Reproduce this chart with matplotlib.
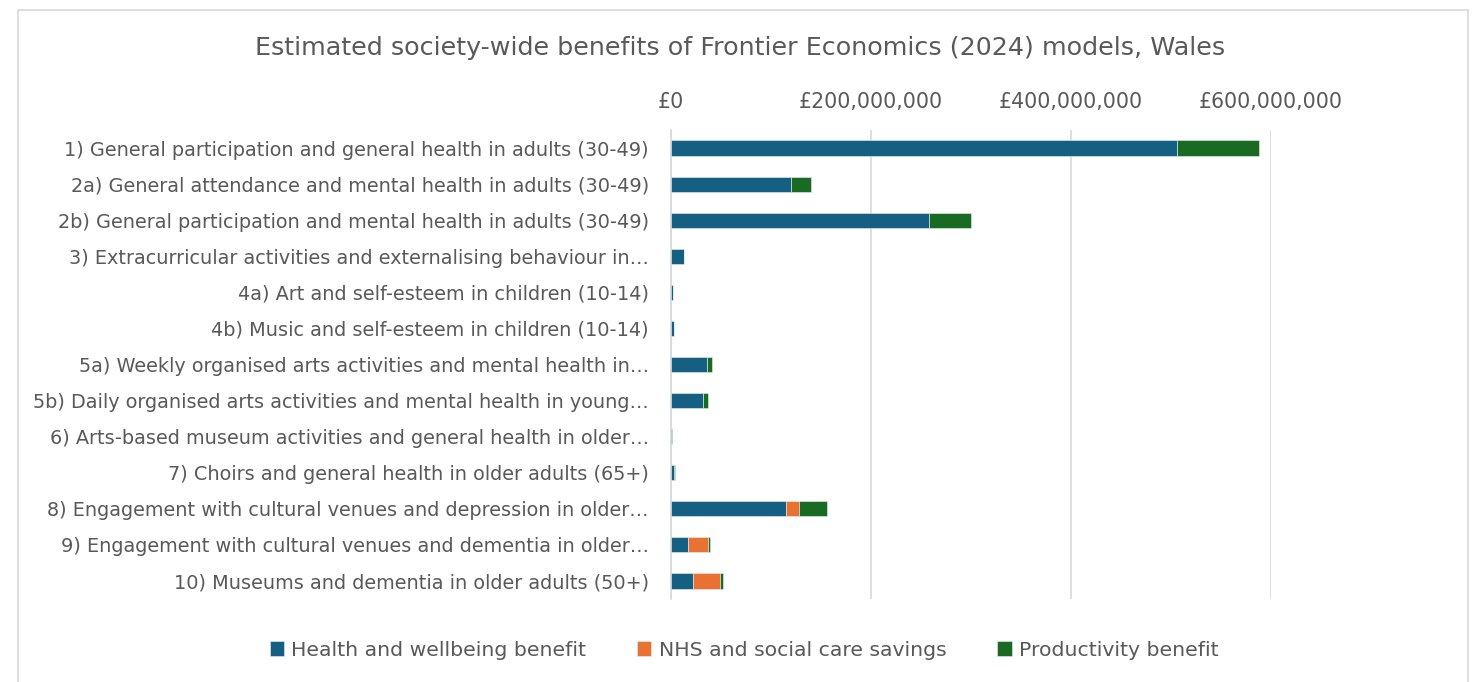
import matplotlib.pyplot as plt
import numpy as np
from matplotlib.patches import Rectangle
from matplotlib.ticker import FuncFormatter

# values in £ millions
categories = [
    "1) General participation and general health in adults (30-49)",
    "2a) General attendance and mental health in adults (30-49)",
    "2b) General participation and mental health in adults (30-49)",
    "3) Extracurricular activities and externalising behaviour in…",
    "4a) Art and self-esteem in children (10-14)",
    "4b) Music and self-esteem in children (10-14)",
    "5a) Weekly organised arts activities and mental health in…",
    "5b) Daily organised arts activities and mental health in young…",
    "6) Arts-based museum activities and general health in older…",
    "7) Choirs and general health in older adults (65+)",
    "8) Engagement with cultural venues and depression in older…",
    "9) Engagement with cultural venues and dementia in older…",
    "10) Museums and dementia in older adults (50+)",
]
health = [506, 120, 258, 13, 2, 3, 36, 32, 0.3, 3, 115, 17, 22]
nhs = [0, 0, 0, 0, 0, 0, 0, 0, 0, 0, 13, 20, 27]
productivity = [82, 20, 42, 0, 0, 0, 4.5, 4.5, 0.6, 1, 28, 2, 2.5]
series_names = ["Health and wellbeing benefit", "NHS and social care savings", "Productivity benefit"]
colors = ["#156082", "#E97132", "#196B24"]
xticks = [0, 200, 400, 600]

grey = "#595959"
plt.rcParams['font.family'] = ['DejaVu Sans']

fig = plt.figure(figsize=(14.8, 6.82), dpi=100)
ax = fig.add_axes([671 / 1480, (682 - 599) / 682, 600 / 1480, 469 / 682])

y = np.arange(len(categories))
h = np.array(health) * 1e6
n = np.array(nhs) * 1e6
p = np.array(productivity) * 1e6
ax.barh(y, h, height=0.42, color=colors[0], edgecolor="#EAF0F4", linewidth=0.4, label=series_names[0], zorder=3)
ax.barh(y, n, left=h, height=0.42, color=colors[1], edgecolor="#EAF0F4", linewidth=0.4, label=series_names[1], zorder=3)
ax.barh(y, p, left=h + n, height=0.42, color=colors[2], edgecolor="#EAF0F4", linewidth=0.4, label=series_names[2], zorder=3)

ax.set_ylim(len(categories) - 0.5, -0.5)
ax.set_yticks(y)
ax.set_yticklabels(categories, fontsize=13.9, color=grey)
ax.set_xlim(0, 600e6)
ax.set_xticks([v * 1e6 for v in xticks])
ax.xaxis.set_major_formatter(FuncFormatter(lambda v, pos: "£{:,.0f}".format(v)))
ax.xaxis.tick_top()
ax.tick_params(axis="x", labelsize=14.8, colors=grey, length=0, pad=13)
ax.tick_params(axis="y", length=0, pad=16)
ax.grid(axis="x", color="#D9D9D9", linewidth=1.2, zorder=0)
for s in ["top", "right", "bottom"]:
    ax.spines[s].set_visible(False)
ax.spines["left"].set_color("#D9D9D9")
ax.spines["left"].set_linewidth(1.2)

fig.text(740 / 1480, (682 - 48) / 682, "Estimated society-wide benefits of Frontier Economics (2024) models, Wales",
         ha="center", va="center", fontsize=18.3, color=grey)

fig.legend(loc="center", bbox_to_anchor=(744 / 1480, (682 - 650) / 682), ncol=3, frameon=False,
           fontsize=14.7, labelcolor=grey, handlelength=0.7, handleheight=0.7, columnspacing=2.5, handletextpad=0.35)

fig.patches.append(Rectangle((18 / 1480, -0.05), 1450 / 1480, 1.05 - 10 / 682, transform=fig.transFigure,
                             fill=False, edgecolor="#D9D9D9", linewidth=1.2))

fig.savefig("out.png", dpi=100)
